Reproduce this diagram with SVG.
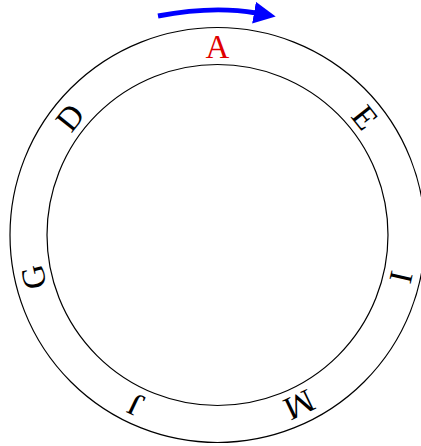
<svg xmlns="http://www.w3.org/2000/svg" width="421" height="446" viewBox="0 0 421 446">
<style>
.ring{fill:none;stroke:#000;stroke-width:1.2}
.lbl{font-family:"Liberation Serif","Times New Roman",serif;font-size:33px;text-anchor:middle;fill:#000}
.red{fill:#e00000}
.arc{fill:none;stroke:#0000ff;stroke-width:5}
</style>
<defs>
<marker id="ah" markerUnits="userSpaceOnUse" markerWidth="24" markerHeight="22" refX="2" refY="11" orient="auto">
<path d="M0,0 L22,11 L0,22 Z" fill="#0000ff"/>
</marker>
</defs>
<g id="rings">
<circle class="ring" cx="217.5" cy="235" r="207.5"/>
<circle class="ring" cx="217.5" cy="235" r="170.5"/>
</g>
<g id="connectors">
<path class="arc" d="M158,16 Q213,5.5 256,13" marker-end="url(#ah)"/>
</g>
<g id="node-A"><text class="lbl red" x="217.5" y="57.5" transform="rotate(0 217.5 235)">A</text></g>
<g id="node-E"><text class="lbl" x="217.5" y="57.5" transform="rotate(51.43 217.5 235)">E</text></g>
<g id="node-I"><text class="lbl" x="217.5" y="57.5" transform="rotate(102.86 217.5 235)">I</text></g>
<g id="node-M"><text class="lbl" x="217.5" y="57.5" transform="rotate(154.29 217.5 235)">M</text></g>
<g id="node-J"><text class="lbl" x="217.5" y="57.5" transform="rotate(205.71 217.5 235)">J</text></g>
<g id="node-G"><text class="lbl" x="217.5" y="57.5" transform="rotate(257.14 217.5 235)">G</text></g>
<g id="node-D"><text class="lbl" x="217.5" y="57.5" transform="rotate(308.57 217.5 235)">D</text></g>
</svg>
